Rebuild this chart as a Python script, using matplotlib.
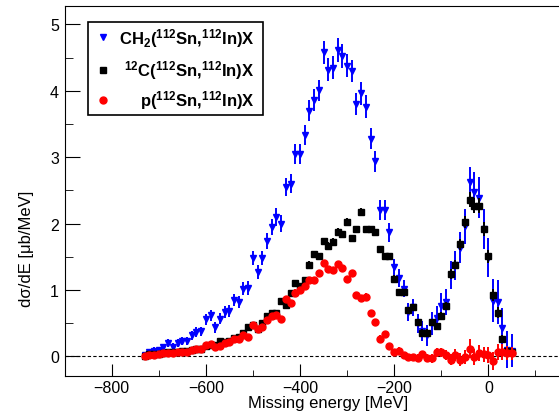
import numpy as np
import matplotlib
matplotlib.use("Agg")
import matplotlib.pyplot as plt
from matplotlib.patches import Rectangle
from matplotlib.ticker import MultipleLocator

plt.rcParams['font.family'] = ['Liberation Sans', 'DejaVu Sans']
plt.rcParams['mathtext.fontset'] = 'custom'
plt.rcParams['mathtext.rm'] = 'Liberation Sans'
plt.rcParams['mathtext.bf'] = 'Liberation Sans:bold'

# Bin centres [MeV]
energia = np.arange(-730, 51, 10)

# CH2(112Sn,112In)X
ch2 = [0.02, 0.06, 0.09, 0.10, 0.14, 0.21, 0.15, 0.21, 0.24, 0.23,
       0.32, 0.37, 0.38, 0.56, 0.62, 0.44, 0.57, 0.67, 0.69, 0.85,
       0.82, 1.02, 1.03, 1.48, 1.27, 1.48, 1.74, 1.95, 2.10, 2.00,
       2.55, 2.60, 3.05, 3.05, 3.33, 3.70, 3.86, 4.01, 4.58, 4.32,
       4.35, 4.62, 4.52, 4.38, 4.30, 3.80, 3.96, 3.76, 3.28, 2.94,
       2.20, 2.21, 1.87, 1.34, 1.18, 1.02, 0.67, 0.74, 0.50, 0.38,
       0.32, 0.50, 0.58, 0.76, 0.82, 1.22, 1.37, 1.64, 1.96, 2.62,
       2.48, 2.39, 1.92, 1.49, 0.84, 0.82, 0.43, 0.10, 0.09]
ch2_err = [0.04, 0.04, 0.05, 0.05, 0.05, 0.06, 0.06, 0.06, 0.06, 0.06,
           0.07, 0.07, 0.07, 0.08, 0.08, 0.08, 0.08, 0.09, 0.09, 0.09,
           0.09, 0.10, 0.10, 0.11, 0.11, 0.11, 0.12, 0.12, 0.13, 0.13,
           0.14, 0.14, 0.15, 0.15, 0.15, 0.16, 0.16, 0.16, 0.17, 0.17,
           0.17, 0.18, 0.18, 0.17, 0.17, 0.17, 0.17, 0.17, 0.16, 0.16,
           0.15, 0.15, 0.14, 0.13, 0.13, 0.13, 0.13, 0.13, 0.14, 0.15,
           0.16, 0.17, 0.18, 0.19, 0.20, 0.21, 0.22, 0.24, 0.26, 0.24,
           0.30, 0.31, 0.30, 0.30, 0.32, 0.33, 0.30, 0.28, 0.25]

# 12C(112Sn,112In)X
carbono = [0.01, 0.03, 0.03, 0.04, 0.05, 0.06, 0.07, 0.07, 0.09, 0.08,
           0.10, 0.12, 0.12, 0.16, 0.18, 0.17, 0.23, 0.22, 0.24, 0.28,
           0.30, 0.35, 0.45, 0.47, 0.42, 0.51, 0.61, 0.66, 0.66, 0.84,
           0.78, 0.95, 1.10, 1.06, 1.15, 1.38, 1.54, 1.51, 1.74, 1.67,
           1.73, 1.88, 1.84, 2.03, 1.78, 1.92, 2.17, 1.92, 1.92, 1.87,
           1.62, 1.51, 1.51, 1.17, 0.97, 0.97, 0.70, 0.74, 0.52, 0.36,
           0.36, 0.52, 0.46, 0.61, 0.76, 1.24, 1.38, 1.69, 2.02, 2.36,
           2.27, 2.27, 1.92, 1.51, 0.92, 0.66, 0.26, 0.09, 0.07]
carbono_err = [0.02, 0.02, 0.02, 0.02, 0.02, 0.02, 0.02, 0.02, 0.02, 0.02,
               0.02, 0.02, 0.02, 0.03, 0.03, 0.03, 0.03, 0.03, 0.03, 0.03,
               0.03, 0.03, 0.04, 0.04, 0.04, 0.04, 0.04, 0.04, 0.04, 0.04,
               0.04, 0.05, 0.05, 0.05, 0.05, 0.05, 0.05, 0.05, 0.05, 0.05,
               0.05, 0.05, 0.05, 0.06, 0.05, 0.05, 0.06, 0.05, 0.05, 0.05,
               0.05, 0.05, 0.05, 0.05, 0.05, 0.05, 0.05, 0.05, 0.05, 0.05,
               0.05, 0.05, 0.05, 0.06, 0.06, 0.07, 0.07, 0.08, 0.09, 0.11,
               0.11, 0.11, 0.11, 0.10, 0.09, 0.08, 0.06, 0.05, 0.05]

# p(112Sn,112In)X
proton = [0.01, 0.015, 0.02, 0.03, 0.045, 0.055, 0.05, 0.065, 0.07, 0.07,
          0.10, 0.11, 0.115, 0.17, 0.19, 0.15, 0.16, 0.21, 0.22, 0.27,
          0.265, 0.33, 0.29, 0.48, 0.41, 0.44, 0.55, 0.61, 0.63, 0.56,
          0.87, 0.81, 0.96, 1.00, 1.06, 1.15, 1.15, 1.25, 1.40, 1.31,
          1.30, 1.39, 1.33, 1.16, 1.25, 0.92, 0.88, 0.90, 0.65, 0.52,
          0.27, 0.34, 0.155, 0.07, 0.09, 0.02, -0.01, -0.01, -0.02, 0.03,
          -0.03, -0.03, 0.06, 0.06, 0.02, -0.05, 0.02, -0.05, -0.01, 0.12,
          -0.01, 0.05, 0.03, 0.02, -0.07, 0.07, 0.07, 0.05, 0.05]
proton_err = [0.02, 0.02, 0.02, 0.02, 0.02, 0.02, 0.02, 0.02, 0.02, 0.02,
              0.02, 0.02, 0.02, 0.03, 0.03, 0.03, 0.03, 0.03, 0.03, 0.03,
              0.03, 0.03, 0.03, 0.04, 0.04, 0.04, 0.04, 0.04, 0.04, 0.04,
              0.04, 0.04, 0.05, 0.05, 0.05, 0.05, 0.05, 0.05, 0.05, 0.05,
              0.05, 0.05, 0.05, 0.05, 0.05, 0.05, 0.05, 0.05, 0.05, 0.05,
              0.05, 0.05, 0.04, 0.05, 0.05, 0.05, 0.05, 0.05, 0.06, 0.06,
              0.06, 0.07, 0.07, 0.07, 0.08, 0.08, 0.09, 0.10, 0.11, 0.15,
              0.12, 0.12, 0.12, 0.12, 0.13, 0.12, 0.12, 0.11, 0.10]

etiquetas = [r'$\mathbf{CH_2(^{112}Sn{,}^{112}In)X}$',
             r'$\mathbf{^{12}C(^{112}Sn{,}^{112}In)X}$',
             r'$\mathbf{p(^{112}Sn{,}^{112}In)X}$']

fig = plt.figure(figsize=(5.59, 4.14), dpi=100)
ax = fig.add_axes([0.1154, 0.090, 0.8846, 0.892])

ax.axhline(0, color='black', lw=0.8, ls=(0, (3, 2)), zorder=1)

ax.errorbar(energia, ch2, yerr=ch2_err, fmt='v', color='#0000ff', ms=5,
            elinewidth=1.4, capsize=0, zorder=2)
ax.errorbar(energia, carbono, yerr=carbono_err, fmt='s', color='black', ms=5,
            elinewidth=1.4, capsize=0, zorder=3)
ax.errorbar(energia, proton, yerr=proton_err, fmt='o', color='#ff0000', ms=5,
            elinewidth=1.4, capsize=0, zorder=4)

ax.set_xlim(-900, 150)
ax.set_ylim(-0.29, 5.27)
ax.spines['right'].set_visible(False)
ax.xaxis.set_major_locator(MultipleLocator(200))
ax.xaxis.set_minor_locator(MultipleLocator(100))
ax.yaxis.set_major_locator(MultipleLocator(1))
ax.yaxis.set_minor_locator(MultipleLocator(0.5))
ax.tick_params(axis='both', which='both', direction='in', labelsize=11.5,
               top=False, right=False)
ax.tick_params(axis='y', which='major', length=11, pad=4)
ax.tick_params(axis='y', which='minor', length=6)
ax.tick_params(axis='x', which='major', length=9, pad=3)
ax.tick_params(axis='x', which='minor', length=4.5)

ax.set_xlabel('Missing energy [MeV]', fontsize=12)
ax.xaxis.set_label_coords(0.533, -0.052)
ax.set_ylabel('d\u03c3/dE [\u03bcb/MeV]', fontsize=12)
ax.yaxis.set_label_coords(-0.062, 0.345)

# Legend box drawn by hand so that the labels are right-aligned like ROOT
ax.add_patch(Rectangle((0.047, 0.706), 0.354, 0.252, transform=ax.transAxes,
                       facecolor='white', edgecolor='black', lw=1.2, zorder=6))
filas = [0.917, 0.829, 0.748]
marcas = [('v', '#0000ff'), ('s', 'black'), ('o', '#ff0000')]
for yy, (m, c), lab in zip(filas, marcas, etiquetas):
    ax.plot([0.077], [yy], marker=m, color=c, ms=5, transform=ax.transAxes,
            clip_on=False, zorder=7)
    ax.text(0.384, yy, lab, transform=ax.transAxes, ha='right', va='center',
            fontsize=12, zorder=7)

fig.savefig('out.png', dpi=100)
